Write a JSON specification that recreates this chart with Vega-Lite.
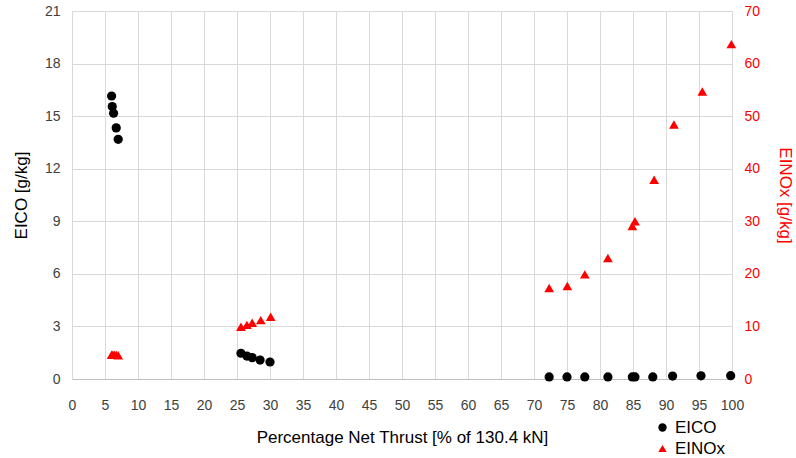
{
  "$schema": "https://vega.github.io/schema/vega-lite/v6.json",
  "width": 660,
  "height": 368,
  "autosize": {"type": "none"},
  "padding": {"left": 72, "top": 11, "right": 64, "bottom": 79},
  "background": "white",
  "config": {
    "font": "Liberation Sans",
    "view": {"stroke": null},
    "axis": {"labelFont": "Liberation Sans", "titleFont": "Liberation Sans", "titleFontWeight": "normal", "labelFontSize": 14, "titleFontSize": 17, "ticks": false, "gridColor": "#d9d9d9", "domainColor": "#d9d9d9", "labelColor": "#404040", "titleColor": "#000000"}
  },
  "data": {
    "values": [
      {"thrust": 6.0, "series": "EICO", "value": 16.15},
      {"thrust": 6.1, "series": "EICO", "value": 15.55},
      {"thrust": 6.3, "series": "EICO", "value": 15.17},
      {"thrust": 6.7, "series": "EICO", "value": 14.33},
      {"thrust": 7.0, "series": "EICO", "value": 13.68},
      {"thrust": 25.6, "series": "EICO", "value": 1.47},
      {"thrust": 26.5, "series": "EICO", "value": 1.31},
      {"thrust": 27.3, "series": "EICO", "value": 1.22},
      {"thrust": 28.5, "series": "EICO", "value": 1.08},
      {"thrust": 30.0, "series": "EICO", "value": 0.97},
      {"thrust": 72.3, "series": "EICO", "value": 0.12},
      {"thrust": 75.0, "series": "EICO", "value": 0.12},
      {"thrust": 77.7, "series": "EICO", "value": 0.12},
      {"thrust": 81.2, "series": "EICO", "value": 0.12},
      {"thrust": 84.9, "series": "EICO", "value": 0.12},
      {"thrust": 85.3, "series": "EICO", "value": 0.12},
      {"thrust": 88.0, "series": "EICO", "value": 0.12},
      {"thrust": 91.0, "series": "EICO", "value": 0.17},
      {"thrust": 95.3, "series": "EICO", "value": 0.18},
      {"thrust": 99.8, "series": "EICO", "value": 0.19},
      {"thrust": 6.0, "series": "EINOx", "value": 4.6},
      {"thrust": 6.2, "series": "EINOx", "value": 4.6},
      {"thrust": 6.4, "series": "EINOx", "value": 4.6},
      {"thrust": 6.7, "series": "EINOx", "value": 4.6},
      {"thrust": 7.0, "series": "EINOx", "value": 4.5},
      {"thrust": 25.6, "series": "EINOx", "value": 9.95},
      {"thrust": 26.5, "series": "EINOx", "value": 10.3},
      {"thrust": 27.3, "series": "EINOx", "value": 10.7},
      {"thrust": 28.6, "series": "EINOx", "value": 11.2},
      {"thrust": 30.1, "series": "EINOx", "value": 11.85},
      {"thrust": 72.3, "series": "EINOx", "value": 17.3},
      {"thrust": 75.05, "series": "EINOx", "value": 17.7},
      {"thrust": 77.7, "series": "EINOx", "value": 19.9},
      {"thrust": 81.2, "series": "EINOx", "value": 23.0},
      {"thrust": 84.9, "series": "EINOx", "value": 29.1},
      {"thrust": 85.3, "series": "EINOx", "value": 30.0},
      {"thrust": 88.2, "series": "EINOx", "value": 37.9},
      {"thrust": 91.2, "series": "EINOx", "value": 48.4},
      {"thrust": 95.5, "series": "EINOx", "value": 54.7},
      {"thrust": 99.9, "series": "EINOx", "value": 63.7}
    ]
  },
  "encoding": {
    "x": {"field": "thrust", "type": "quantitative", "scale": {"domain": [0, 100], "nice": false, "zero": false},
      "axis": {"title": "Percentage Net Thrust [% of 130.4 kN]", "values": [0,5,10,15,20,25,30,35,40,45,50,55,60,65,70,75,80,85,90,95,100], "labelPadding": 19, "titlePadding": 17, "domainColor": "#bfbfbf", "labelFlush": false, "labelOverlap": false}},
    "color": {"field": "series", "type": "nominal", "scale": {"domain": ["EICO", "EINOx"], "range": ["#000000", "#ff0000"]},
      "legend": {"title": null, "orient": "none", "legendX": 582, "legendY": 408, "labelFontSize": 17, "labelFont": "Liberation Sans", "symbolSize": 70, "rowPadding": 3, "labelColor": "#000000"}},
    "shape": {"field": "series", "type": "nominal", "scale": {"domain": ["EICO", "EINOx"], "range": ["circle", "triangle-up"]}}
  },
  "layer": [
    {
      "transform": [{"filter": "datum.series === 'EICO'"}],
      "mark": {"type": "point", "filled": true, "size": 85, "opacity": 1},
      "encoding": {
        "y": {"field": "value", "type": "quantitative", "scale": {"domain": [0, 21], "nice": false},
          "axis": {"title": "EICO [g/kg]", "values": [0,3,6,9,12,15,18,21], "orient": "left", "labelPadding": 12, "titlePadding": 14, "grid": true}}
      }
    },
    {
      "transform": [{"filter": "datum.series === 'EINOx'"}],
      "mark": {"type": "point", "filled": true, "size": 95, "opacity": 1},
      "encoding": {
        "y": {"field": "value", "type": "quantitative", "scale": {"domain": [0, 70], "nice": false},
          "axis": {"title": "EINOx [g/kg]", "values": [0,10,20,30,40,50,60,70], "orient": "right", "labelPadding": 12, "titlePadding": 16, "grid": false, "domain": false, "labelColor": "#ff0000", "titleColor": "#ff0000"}}
      }
    }
  ],
  "resolve": {"scale": {"y": "independent"}}
}
